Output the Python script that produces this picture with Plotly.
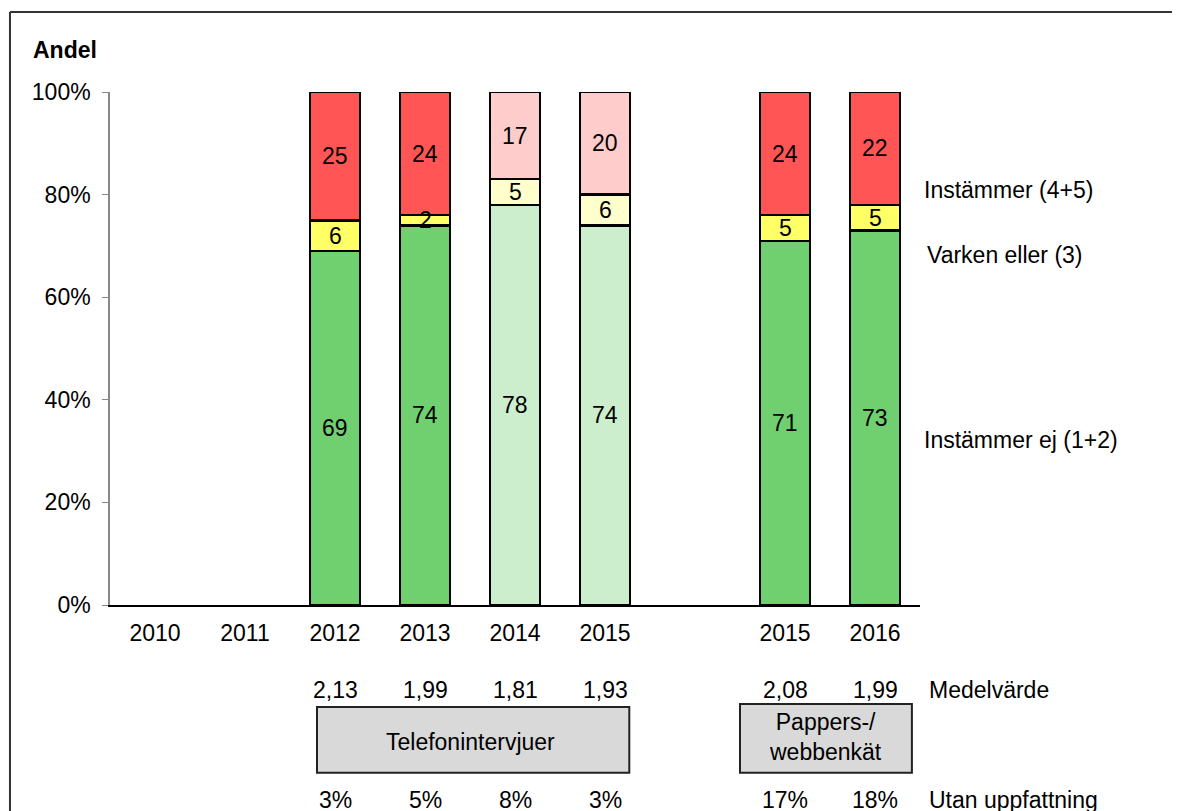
import plotly.graph_objects as go

# categories (one empty slot separates the two survey methods)
cat_labels = ["2010", "2011", "2012", "2013", "2014", "2015", "", "2015", "2016"]
pos = list(range(len(cat_labels)))

disagree = [None, None, 69, 74, 78, 74, None, 71, 73]   # Instämmer ej (1+2)
neutral = [None, None, 6, 2, 5, 6, None, 5, 5]           # Varken eller (3)
agree = [None, None, 25, 24, 17, 20, None, 24, 22]       # Instämmer (4+5)

light = [False, False, False, False, True, True, False, False, False]

medel = ["", "", "2,13", "1,99", "1,81", "1,93", "", "2,08", "1,99"]
utan = ["", "", "3%", "5%", "8%", "3%", "", "17%", "18%"]

y_ticks = [0, 20, 40, 60, 80, 100]

FONT = "Liberation Sans, Arial, sans-serif"
FS = 23

GREEN, GREEN_L = "#70D070", "#CCEECC"
YELLOW, YELLOW_L = "#FFFF66", "#FFFFCC"
RED, RED_L = "#FF5555", "#FFCCCC"


def colors(dark, pale):
    return [pale if l else dark for l in light]


series = [
    ("Instämmer ej (1+2)", disagree, colors(GREEN, GREEN_L)),
    ("Varken eller (3)", neutral, colors(YELLOW, YELLOW_L)),
    ("Instämmer (4+5)", agree, colors(RED, RED_L)),
]

fig = go.Figure()
for name, vals, cols in series:
    fig.add_trace(go.Bar(
        x=pos, y=vals, name=name,
        marker=dict(color=cols, line=dict(color="black", width=2.5)),
        showlegend=False, hoverinfo="skip",
    ))

annotations = []
# segment labels, centred in each stacked piece
base = [0] * len(pos)
for name, vals, cols in series:
    for i, v in enumerate(vals):
        if v is None:
            continue
        annotations.append(dict(x=pos[i], xref="x", y=base[i] + v / 2, yref="y", text=str(v),
                                showarrow=False, xanchor="center", yanchor="middle"))
        base[i] += v

# series labels on the right
for txt, yy, dx in [("Instämmer (4+5)", 80.9, 2), ("Varken eller (3)", 68.2, 5), ("Instämmer ej (1+2)", 32.2, 2)]:
    annotations.append(dict(x=1.0, xref="paper", y=yy, yref="y", text=txt, showarrow=False,
                            xanchor="left", yanchor="middle", xshift=dx))

for p, m, u in zip(pos, medel, utan):
    if m:
        annotations.append(dict(x=p, xref="x", y=-0.1657, yref="paper", text=m, showarrow=False,
                                xanchor="center", yanchor="middle"))
    if u:
        annotations.append(dict(x=p, xref="x", y=-0.380, yref="paper", text=u, showarrow=False,
                                xanchor="center", yanchor="middle"))

annotations += [
    dict(x=1.0, xref="paper", xshift=7, y=-0.1657, yref="paper", text="Medelvärde", showarrow=False,
         xanchor="left", yanchor="middle"),
    dict(x=1.0, xref="paper", xshift=7, y=-0.380, yref="paper", text="Utan uppfattning", showarrow=False,
         xanchor="left", yanchor="middle"),
    dict(x=3.5, xref="x", y=-0.267, yref="paper", text="Telefonintervjuer", showarrow=False,
         xanchor="center", yanchor="middle"),
    dict(x=7.45, xref="x", y=-0.257, yref="paper", text="Pappers-/<br>webbenkät", showarrow=False,
         xanchor="center", yanchor="middle"),
    dict(x=-0.097, xref="paper", y=1.082, yref="paper", text="<b>Andel</b>", showarrow=False,
         xanchor="left", yanchor="middle"),
]

shapes = [
    dict(type="rect", xref="x", yref="paper", x0=1.8, x1=5.27, y0=-0.327, y1=-0.199,
         fillcolor="#D9D9D9", line=dict(color="#222", width=2), layer="below"),
    dict(type="rect", xref="x", yref="paper", x0=6.5, x1=8.41, y0=-0.327, y1=-0.193,
         fillcolor="#D9D9D9", line=dict(color="#222", width=2), layer="below"),
    # outer frame (top and left edges visible)
    dict(type="line", xref="paper", yref="paper", x0=-0.1235, x1=1.45, y0=1.156, y1=1.156,
         line=dict(color="#333", width=2)),
    dict(type="line", xref="paper", yref="paper", x0=-0.1235, x1=-0.1235, y0=1.156, y1=-0.5,
         line=dict(color="#333", width=2)),
]

fig.update_layout(
    barmode="stack", bargap=0.44,
    width=1180, height=811,
    margin=dict(l=102, r=268, t=84, b=214),
    paper_bgcolor="white", plot_bgcolor="white",
    font=dict(family=FONT, size=FS, color="black"),
    annotations=annotations, shapes=shapes,
)
fig.update_xaxes(range=[-0.5, len(pos) - 0.5], tickvals=pos, ticktext=cat_labels,
                 showline=True, linecolor="black", linewidth=1.5,
                 ticks="outside", ticklen=7, tickcolor="rgba(0,0,0,0)",
                 showgrid=False, zeroline=False, tickfont=dict(size=FS))
fig.update_yaxes(range=[0, 100], tickvals=y_ticks, ticktext=[f"{t}%" for t in y_ticks],
                 showline=True, linecolor="#888", linewidth=1.5, ticks="outside", ticklen=6,
                 tickcolor="#888", showgrid=False, zeroline=False, ticklabelstandoff=7,
                 tickfont=dict(size=FS))

fig.write_html("out.html")
